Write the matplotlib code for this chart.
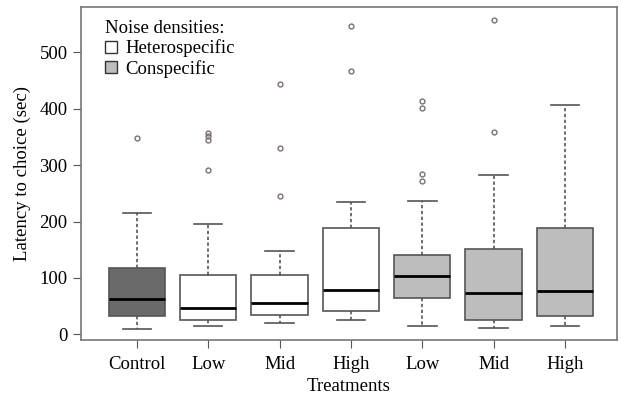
import matplotlib
matplotlib.use("Agg")
import matplotlib.pyplot as plt
from matplotlib.patches import Patch

plt.rcParams['font.family'] = ['Liberation Serif', 'DejaVu Serif']

# values
labels = ['Control', 'Low', 'Mid', 'High', 'Low', 'Mid', 'High']
whis_lo = [10, 14, 21, 25, 14, 11, 14]
q1 = [32, 26, 34, 41, 64, 25, 33]
medians = [63, 47, 56, 79, 103, 73, 77]
q3 = [117, 105, 105, 189, 140, 151, 189]
whis_hi = [215, 195, 148, 234, 237, 283, 406]
outliers = [
    [348],
    [357, 351, 344, 291],
    [443, 331, 245],
    [547, 466],
    [414, 402, 284, 272],
    [557, 359],
    [],
]
fills = ['#6a6a6a', 'white', 'white', 'white', '#bdbdbd', '#bdbdbd', '#bdbdbd']

stats = []
for i in range(len(labels)):
    stats.append(dict(med=medians[i], q1=q1[i], q3=q3[i], whislo=whis_lo[i],
                      whishi=whis_hi[i], fliers=outliers[i], label=labels[i]))

edge = '#555555'
fig, ax = plt.subplots(figsize=(6.22, 3.99), dpi=100)
fig.subplots_adjust(left=0.13, right=0.992, top=0.982, bottom=0.147)

bp = ax.bxp(stats, positions=range(1, 8), widths=0.79, patch_artist=True,
            boxprops=dict(edgecolor=edge, linewidth=1.2),
            medianprops=dict(color='black', linewidth=2),
            whiskerprops=dict(color=edge, linestyle=(0, (2, 1.5)), linewidth=1.2),
            capprops=dict(color=edge, linewidth=1.2),
            flierprops=dict(marker='o', markersize=3.5, markerfacecolor='none',
                            markeredgecolor='#7a7070', markeredgewidth=1))
for box, c in zip(bp['boxes'], fills):
    box.set_facecolor(c)
for cap in bp['caps']:
    x = cap.get_xdata()
    mid = (x[0] + x[1]) / 2
    cap.set_xdata([mid - 0.2, mid + 0.2])

ax.set_xlim(0.215, 7.73)
ax.set_ylim(-10.6, 580)
ax.set_yticks([0, 100, 200, 300, 400, 500])
ax.set_xlabel('Treatments', fontsize=13.5, labelpad=4)
ax.set_ylabel('Latency to choice (sec)', fontsize=13.5, labelpad=6)
ax.tick_params(labelsize=13.5, color=edge, length=6)
ax.tick_params(axis='x', pad=5)
for s in ax.spines.values():
    s.set_color('#777777')
    s.set_linewidth(1.2)

handles = [Patch(facecolor='white', edgecolor='#333333', label='Heterospecific'),
           Patch(facecolor='#bdbdbd', edgecolor='#333333', label='Conspecific')]
leg = ax.legend(handles=handles, title='Noise densities:', loc='upper left',
                frameon=False, fontsize=13.5, title_fontsize=13.5,
                handlelength=0.65, handleheight=0.65, handletextpad=0.45,
                labelspacing=0.12, borderaxespad=0.3, bbox_to_anchor=(0.02, 1.0))
leg._legend_box.align = 'left'

fig.savefig('out.png', dpi=100)
